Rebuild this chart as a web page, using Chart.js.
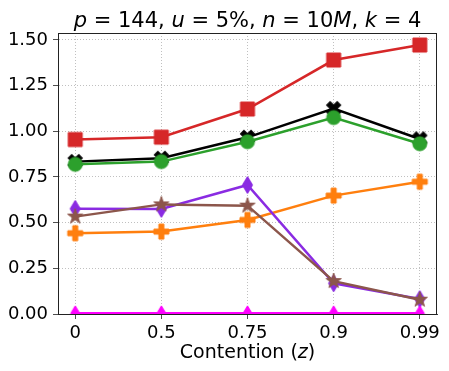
<!DOCTYPE html>
<html lang="en">
<head>
  <meta charset="UTF-8">
  <title>Contention</title>
  <script src="https://cdn.jsdelivr.net/npm/chart.js"></script>
  <style>
    body { margin: 0; background: #fff; }
    .wrap { width: 449px; height: 371px; position: relative; }
  </style>
</head>
<body>
  <div class="wrap"><canvas id="chart"></canvas></div>

  <script>
    // data
    const contention = ['0', '0.5', '0.75', '0.9', '0.99'];
    const yTicks = [0, 0.25, 0.5, 0.75, 1.0, 1.25, 1.5];
    const redSquare = [0.955, 0.968, 1.122, 1.390, 1.472];
    const blackX = [0.834, 0.852, 0.967, 1.124, 0.958];
    const greenCircle = [0.819, 0.834, 0.943, 1.075, 0.932];
    const purpleDiamond = [0.576, 0.575, 0.706, 0.168, 0.082];
    const brownStar = [0.533, 0.600, 0.593, 0.180, 0.078];
    const orangePlus = [0.442, 0.451, 0.515, 0.648, 0.724];
    const magentaDiamond = [0.004, 0.004, 0.004, 0.004, 0.004];

    const FONT = "'DejaVu Sans', sans-serif";

    // filled markers like matplotlib's
    function marker(shape, color, size) {
      const c = document.createElement('canvas');
      const dim = Math.ceil(size) + 4;
      c.width = dim; c.height = dim;
      const g = c.getContext('2d');
      g.translate(dim / 2, dim / 2);
      g.fillStyle = color;
      g.strokeStyle = color;
      g.lineWidth = 1;
      const h = size / 2;
      g.beginPath();
      if (shape === 'square') {
        g.rect(-h, -h, size, size);
      } else if (shape === 'circle') {
        g.arc(0, 0, h, 0, Math.PI * 2);
      } else if (shape === 'thin') {
        g.moveTo(0, -h); g.lineTo(h * 0.6, 0); g.lineTo(0, h); g.lineTo(-h * 0.6, 0);
        g.closePath();
      } else if (shape === 'plus' || shape === 'x') {
        if (shape === 'x') g.rotate(Math.PI / 4);
        const a = h / 3;
        const pts = [[-a, -h], [a, -h], [a, -a], [h, -a], [h, a], [a, a], [a, h], [-a, h], [-a, a], [-h, a], [-h, -a], [-a, -a]];
        pts.forEach((p, i) => i ? g.lineTo(p[0], p[1]) : g.moveTo(p[0], p[1]));
        g.closePath();
      } else if (shape === 'star') {
        for (let i = 0; i < 10; i++) {
          const r = i % 2 ? h * 0.381 : h;
          const ang = -Math.PI / 2 + i * Math.PI / 5;
          const px = r * Math.cos(ang), py = r * Math.sin(ang);
          i ? g.lineTo(px, py) : g.moveTo(px, py);
        }
        g.closePath();
      }
      g.fill();
      g.stroke();
      return c;
    }

    function series(values, color, shape, size) {
      return {
        data: values.map((v, i) => ({ x: i, y: v })),
        borderColor: color,
        backgroundColor: color,
        borderWidth: 2.5,
        pointStyle: marker(shape, color, size),
        pointRadius: 7,
        fill: false,
        tension: 0
      };
    }

    // title and x label with italic math letters
    function drawMixed(ctx, parts, cx, y, size) {
      let total = 0;
      parts.forEach(p => {
        ctx.font = (p[1] ? 'italic ' : '') + size + 'px ' + FONT;
        total += ctx.measureText(p[0]).width;
      });
      let x = cx - total / 2;
      parts.forEach(p => {
        ctx.font = (p[1] ? 'italic ' : '') + size + 'px ' + FONT;
        ctx.fillText(p[0], x, y);
        x += ctx.measureText(p[0]).width;
      });
    }

    const textPlugin = {
      id: 'textPlugin',
      afterDatasetsDraw(chart) {
        const ctx = chart.ctx;
        const a = chart.chartArea;
        ctx.save();
        ctx.strokeStyle = '#222';
        ctx.lineWidth = 1;
        ctx.strokeRect(a.left + 0.5, a.top + 0.5, a.right - a.left - 1, a.bottom - a.top);
        ctx.restore();
      },
      afterDraw(chart) {
        const ctx = chart.ctx;
        const a = chart.chartArea;
        const cx = (a.left + a.right) / 2;
        ctx.save();
        ctx.fillStyle = '#000';
        ctx.textBaseline = 'alphabetic';
        ctx.textAlign = 'left';
        drawMixed(ctx, [['p', 1], [' = 144, ', 0], ['u', 1], [' = 5%, ', 0], ['n', 1], [' = 10', 0], ['M', 1], [', ', 0], ['k', 1], [' = 4', 0]], cx, 27, 21);
        drawMixed(ctx, [['Contention (', 0], ['z', 1], [')', 0]], cx, 358, 19);
        ctx.restore();
      }
    };

    new Chart(document.getElementById('chart'), {
      type: 'line',
      data: {
        datasets: [
          series(magentaDiamond, '#ff00ff', 'thin', 15),
          series(brownStar, '#8c564b', 'star', 16),
          series(purpleDiamond, '#8a2be2', 'thin', 17),
          series(orangePlus, '#ff7f0e', 'plus', 15),
          series(greenCircle, '#2ca02c', 'circle', 14),
          series(blackX, '#000000', 'x', 15),
          series(redSquare, '#d62728', 'square', 14)
        ]
      },
      options: {
        responsive: true,
        maintainAspectRatio: false,
        animation: false,
        layout: { padding: { left: 0, right: 12, top: 33, bottom: 0 } },
        plugins: {
          legend: { display: false },
          title: { display: false },
          tooltip: { enabled: false }
        },
        scales: {
          x: {
            type: 'linear',
            min: -0.2,
            max: 4.2,
            afterBuildTicks: s => { s.ticks = contention.map((_, i) => ({ value: i })); },
            afterFit: s => { s.height = 57; },
            ticks: {
              autoSkip: false,
              maxRotation: 0,
              padding: 4,
              color: '#000',
              font: { family: FONT, size: 18 },
              callback: v => contention[v]
            },
            grid: {
              color: '#b0b0b0',
              lineWidth: 0.8,
              tickColor: '#222',
              tickLength: 5,
              tickBorderDash: []
            },
            border: { display: true, color: '#222', width: 1, dash: [1, 2] }
          },
          y: {
            min: 0,
            max: 1.538,
            afterBuildTicks: s => { s.ticks = yTicks.map(v => ({ value: v })); },
            afterFit: s => { s.width = 58; },
            ticks: {
              padding: 5,
              color: '#000',
              font: { family: FONT, size: 18 },
              callback: v => v.toFixed(2)
            },
            grid: {
              color: '#b0b0b0',
              lineWidth: 0.8,
              tickColor: '#222',
              tickLength: 5,
              tickBorderDash: []
            },
            border: { display: true, color: '#222', width: 1, dash: [1, 2] }
          }
        }
      },
      plugins: [textPlugin]
    });
  </script>
</body>
</html>
